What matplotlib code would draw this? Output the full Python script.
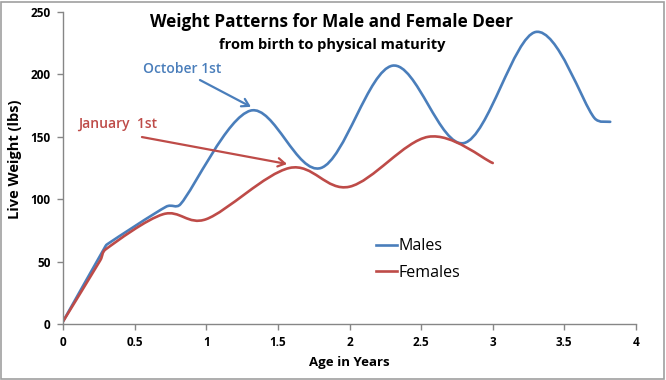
import matplotlib
matplotlib.use("Agg")
import matplotlib.pyplot as plt
from matplotlib.path import Path
from matplotlib.patches import PathPatch, Rectangle
from matplotlib.lines import Line2D
import numpy as np

plt.rcParams['font.family'] = ['Open Sans', 'DejaVu Sans']

# ---- data ----
male_age = [0, 0.29, 0.31, 0.72, 0.82, 1.31, 1.8, 2.3, 2.8, 3.3, 3.71, 3.82]
male_weight = [2, 61, 64, 94, 96, 171, 125, 207, 145, 234, 165, 162]
female_age = [0, 0.26, 0.3, 0.7, 1.0, 1.58, 2.0, 2.55, 3.0]
female_weight = [2, 51, 60, 88, 84, 125, 110, 150, 129]
series_names = ["Males", "Females"]
x_ticks = [0, 0.5, 1, 1.5, 2, 2.5, 3, 3.5, 4]
x_tick_labels = ["0", "0.5", "1", "1.5", "2", "2.5", "3", "3.5", "4"]
y_ticks = [0, 50, 100, 150, 200, 250]

BLUE = '#4A7EBB'
RED = '#BE4B48'
GRAY = '#868686'

# axes scale (pixels per data unit) used to keep the smoothing aspect-correct
SX, SY = 573 / 4.0, 312 / 250.0


def smooth_path(xs, ys):
    """Excel-like smoothed line: Catmull-Rom Bezier arms, clipped on short segments."""
    P = np.column_stack([np.asarray(xs, float) * SX, np.asarray(ys, float) * SY])
    n = len(P)

    def arm(v, seg):
        d = np.hypot(*v)
        lim = 0.45 * seg
        return v * (lim / d) if d > lim else v

    verts = [P[0]]
    codes = [Path.MOVETO]
    for i in range(n - 1):
        p0 = P[i - 1] if i > 0 else P[i]
        p1, p2 = P[i], P[i + 1]
        p3 = P[i + 2] if i + 2 < n else P[i + 1]
        seg = np.hypot(*(p2 - p1))
        c1 = p1 + arm((p2 - p0) / 6.0, seg)
        c2 = p2 - arm((p3 - p1) / 6.0, seg)
        verts += [c1, c2, p2]
        codes += [Path.CURVE4] * 3
    V = np.array(verts)
    V[:, 0] /= SX
    V[:, 1] /= SY
    return Path(V, codes)


fig = plt.figure(figsize=(6.66, 3.80), dpi=100)
ax = fig.add_axes([63 / 666, 1 - 324 / 380, 573 / 666, 312 / 380])

lw = 1.9
for xs, ys, c in [(male_age, male_weight, BLUE), (female_age, female_weight, RED)]:
    ax.add_patch(PathPatch(smooth_path(xs, ys), facecolor='none', edgecolor=c,
                           lw=lw, capstyle='round', joinstyle='round'))

ax.set_xlim(0, 4)
ax.set_ylim(0, 250)
ax.set_xticks(x_ticks)
ax.set_xticklabels(x_tick_labels)
ax.set_yticks(y_ticks)
for s in ['top', 'right']:
    ax.spines[s].set_visible(False)
for s in ['left', 'bottom']:
    ax.spines[s].set_color(GRAY)
    ax.spines[s].set_linewidth(1.0)
ax.tick_params(direction='out', length=4, width=1.0, color=GRAY,
               labelsize=8.5, pad=5)
for lab in ax.get_xticklabels() + ax.get_yticklabels():
    lab.set_fontweight('bold')

ax.set_xlabel("Age in Years", fontsize=9.5, fontweight='bold', labelpad=5)
ax.set_ylabel("Live Weight (lbs)", fontsize=10.5, fontweight='bold', va='center')
ax.yaxis.set_label_coords((15 - 63) / 573, (324 - 159) / 312)

# titles
fig.text(332 / 666, 1 - 22 / 380, "Weight Patterns for Male and Female Deer",
         ha='center', va='center', fontsize=12.3, fontweight='bold')
fig.text(332 / 666, 1 - 45 / 380, "from birth to physical maturity",
         ha='center', va='center', fontsize=10.5, fontweight='bold')

# annotations
ax.text(0.83, 204, "October 1st", ha='center', va='center', fontsize=10,
        fontweight='semibold', color=BLUE)
ax.annotate("", xy=(1.312, 174), xytext=(0.956, 195.5),
            arrowprops=dict(arrowstyle='->,head_length=0.5,head_width=0.3',
                            color=BLUE, lw=1.6, shrinkA=0, shrinkB=0))
ax.text(0.384, 160, "January  1st", ha='center', va='center', fontsize=10,
        fontweight='semibold', color=RED)
ax.annotate("", xy=(1.564, 128.2), xytext=(0.551, 149.8),
            arrowprops=dict(arrowstyle='->,head_length=0.5,head_width=0.3',
                            color=RED, lw=1.6, shrinkA=0, shrinkB=0))

handles = [Line2D([], [], color=BLUE, lw=1.9), Line2D([], [], color=RED, lw=1.9)]
ax.legend(handles, series_names, loc='upper left', bbox_to_anchor=(0.546, 0.275),
          frameon=False, fontsize=11.5, handlelength=1.3, handletextpad=0.1,
          labelspacing=0.65, borderpad=0, borderaxespad=0)

fig.patches.append(Rectangle((0.002, 0.003), 0.995, 0.993, transform=fig.transFigure,
                             facecolor='none', edgecolor='#a0a0a0', lw=1.2))

fig.savefig("out.png", dpi=100)
